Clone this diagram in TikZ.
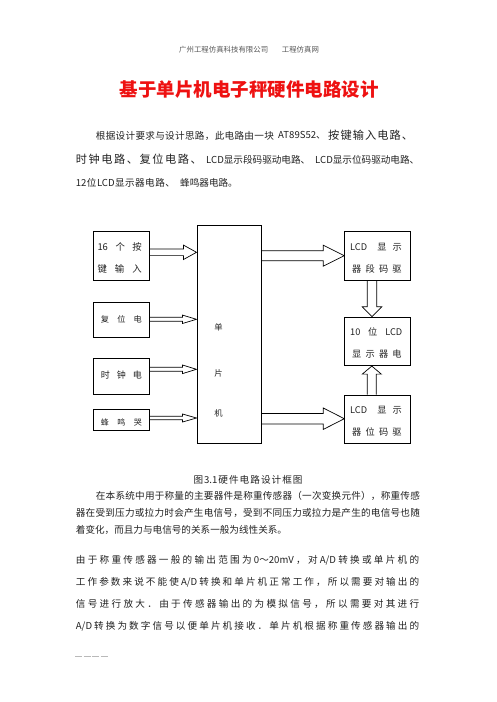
\documentclass[tikz,border=0pt]{standalone}
\usepackage{fontspec}
\setmainfont{Noto Sans CJK SC}
\usetikzlibrary{calc}
\makeatletter
\def\spr@B#1{#1\futurelet\spr@next\spr@C}
\def\spr@C{\ifx\spr@next\relax\expandafter\spr@End\else\hfil\expandafter\spr@B\fi}
\def\spr@End\relax{}
\newcommand\jl[2]{\hbox to #1{\spr@B#2\relax}}
\makeatother
\newcommand\fs[1]{\fontsize{#1}{#1}\selectfont}
\definecolor{bodyc}{HTML}{222222}
\definecolor{headc}{HTML}{555555}
\definecolor{titlec}{HTML}{EE1111}
\newcommand\harr[6]{%
\draw[barrow] ($(#1.east |- 0,#3)+(0,-#4)$) -- ($(#2.west |- 0,#3)+(-#6,-#4)$) -- ($(#2.west |- 0,#3)+(-#6,-#5)$) -- (#2.west |- 0,#3) -- ($(#2.west |- 0,#3)+(-#6,#5)$) -- ($(#2.west |- 0,#3)+(-#6,#4)$) -- ($(#1.east |- 0,#3)+(0,#4)$);}
\newcommand\darr[6]{%
\draw[barrow] ($(#1.south -| #3,0)+(-#4,0)$) -- ($(#2.north -| #3,0)+(-#4,-#6)$) -- ($(#2.north -| #3,0)+(-#5,-#6)$) -- (#2.north -| #3,0) -- ($(#2.north -| #3,0)+(#5,-#6)$) -- ($(#2.north -| #3,0)+(#4,-#6)$) -- ($(#1.south -| #3,0)+(#4,0)$);}
\newcommand\uarr[6]{%
\draw[barrow] ($(#1.north -| #3,0)+(-#4,0)$) -- ($(#2.south -| #3,0)+(-#4,#6)$) -- ($(#2.south -| #3,0)+(-#5,#6)$) -- (#2.south -| #3,0) -- ($(#2.south -| #3,0)+(#5,#6)$) -- ($(#2.south -| #3,0)+(#4,#6)$) -- ($(#1.north -| #3,0)+(#4,0)$);}
\begin{document}
\begin{tikzpicture}[x=1pt,y=-1pt,
  box/.style={draw,line width=0.8pt,rectangle,inner sep=0pt,anchor=north west},
  txt/.style={inner sep=0pt,anchor=west,text=bodyc},
  ctxt/.style={inner sep=0pt,anchor=center,text=bodyc},
  barrow/.style={draw,line width=0.7pt,line join=miter}]
\useasboundingbox[fill=white] (0,0) rectangle (496,702);

% header and title
\node[txt,text=headc] (hd1) at (179,49.3) {\fs{7.4}\jl{89pt}{广州工程仿真科技有限公司}};
\node[txt,text=headc] (hd2) at (281.7,49.3) {\fs{7.4}\jl{35pt}{工程仿真网}};
\node[txt,text=titlec] (title) at (119.5,89.5) {\fs{18.5}\bfseries\jl{256pt}{基于单片机电子秤硬件电路设计}};

% paragraph 1
\node[txt] (p1a) at (95.7,135.5) {\fs{9.6}\jl{178pt}{根据设计要求与设计思路，此电路由一块}};
\node[txt] (p1b) at (278,135.5) {\fs{9.6}\jl{43.7pt}{{AT89S52}、}};
\node[txt] (p1c) at (328,135.5) {\fs{11.2}\jl{85pt}{按键输入电路、}};
\node[txt] (p1d) at (75.7,159.5) {\fs{11.2}\jl{126pt}{时钟电路、复位电路、}};
\node[txt] (p1e) at (206,159.5) {\fs{9.6}\jl{102pt}{{LCD}显示段码驱动电路、}};
\node[txt] (p1f) at (315,159.5) {\fs{9.6}\jl{103pt}{{LCD}显示位码驱动电路、}};
\node[txt] (p1g) at (75.7,183) {\fs{9.6}\jl{99pt}{{12}位{LCD}显示器电路、}};
\node[txt] (p1h) at (180,183) {\fs{9.6}蜂鸣器电路。};

% diagram boxes
\node[box,minimum width=56pt,minimum height=49pt] (k16) at (93.3,231.3) {};
\node[box,minimum width=56pt,minimum height=35pt] (rst) at (93.3,302.3) {};
\node[box,minimum width=56pt,minimum height=35.7pt] (clk) at (93.3,358.3) {};
\node[box,minimum width=56pt,minimum height=21pt] (bz) at (93.3,408.7) {};
\node[box,minimum width=64pt,minimum height=218.8pt] (mcu) at (196.5,224.5) {};
\node[box,minimum width=65.2pt,minimum height=49pt] (seg) at (344.3,231.3) {};
\node[box,minimum width=65.2pt,minimum height=48.6pt] (lcd) at (344.3,316.7) {};
\node[box,minimum width=65.2pt,minimum height=48.8pt] (pos) at (344.3,394.5) {};

% box texts
\node[txt] (k16a) at (97.3,246.7) {\fs{9.4}\jl{44.4pt}{{16}个按}};
\node[txt] (k16b) at (97.3,269.3) {\fs{9.4}\jl{44.4pt}{键输入}};
\node[txt] (rsta) at (100.7,319.3) {\fs{8.2}\jl{41pt}{复位电}};
\node[txt] (clka) at (100.7,375.3) {\fs{9}\jl{41pt}{时钟电}};
\node[txt] (bza) at (100.7,422.3) {\fs{8}\jl{41pt}{蜂鸣哭}};
\node[ctxt] (mcu1) at (218.5,327.3) {\fs{8.3}单};
\node[ctxt] (mcu2) at (218.5,373.3) {\fs{8.3}片};
\node[ctxt] (mcu3) at (218.5,413.3) {\fs{8.3}机};
\node[txt] (sega) at (350,247.3) {\fs{9.2}\jl{51.7pt}{{LCD\hspace{4pt}}显示}};
\node[txt] (segb) at (352,269.3) {\fs{9.2}\jl{49.5pt}{器段码驱}};
\node[txt] (lcda) at (350,332) {\fs{9.2}\jl{52pt}{{10}位{LCD}}};
\node[txt] (lcdb) at (352,354) {\fs{9.2}\jl{49.5pt}{显示器电}};
\node[txt] (posa) at (350,410.7) {\fs{9.2}\jl{51.7pt}{{LCD\hspace{4pt}}显示}};
\node[txt] (posb) at (352,431.7) {\fs{9.2}\jl{49.5pt}{器位码驱}};

% block arrows
\harr{k16}{mcu}{252.3}{3.3}{7.2}{13}
\harr{rst}{mcu}{319.3}{2}{4.2}{14}
\harr{clk}{mcu}{369.3}{2}{4.3}{14}
\harr{bz}{mcu}{418}{1.7}{4}{14}
\harr{mcu}{seg}{255.7}{5}{10.5}{21}
\harr{mcu}{pos}{418.7}{5.3}{10.7}{21}
\darr{seg}{lcd}{372}{4.7}{9.8}{10}
\uarr{pos}{lcd}{371.8}{4.5}{9.5}{8}

% caption and paragraph 2
\node[txt] (cap) at (193.3,479.5) {\fs{9.6}\jl{109pt}{图{3.1}硬件电路设计框图}};
\node[txt] (p2a) at (95.7,495.5) {\fs{9.6}\jl{324pt}{在本系统中用于称量的主要器件是称重传感器（一次变换元件），称重传感}};
\node[txt] (p2b) at (75.7,512.5) {\fs{9.6}\jl{344pt}{器在受到压力或拉力时会产生电信号，受到不同压力或拉力是产生的电信号也随}};
\node[txt] (p2c) at (75.7,529.5) {\fs{9.6}着变化，而且力与电信号的关系一般为线性关系。};

% paragraph 3
\node[txt] (p3a) at (75.7,560.5) {\fs{9.6}\jl{343.3pt}{由于称重传感器一般的输出范围为{0～20mV}，对{A/D}转换或单片机的}};
\node[txt] (p3b) at (75.7,582.5) {\fs{9.6}\jl{343.3pt}{工作参数来说不能使{A/D}转换和单片机正常工作，所以需要对输出的}};
\node[txt] (p3c) at (75.7,604.3) {\fs{9.6}\jl{343.3pt}{信号进行放大．由于传感器输出的为模拟信号，所以需要对其进行}};
\node[txt] (p3d) at (75.7,626.5) {\fs{9.6}\jl{343.3pt}{{A/D}转换为数字信号以便单片机接收．单片机根据称重传感器输出的}};

% footer dashes
\draw[gray!55,line width=0.5pt,dash pattern=on 7pt off 1.6pt] (75,656.7) -- (108,656.7);
\end{tikzpicture}
\end{document}
